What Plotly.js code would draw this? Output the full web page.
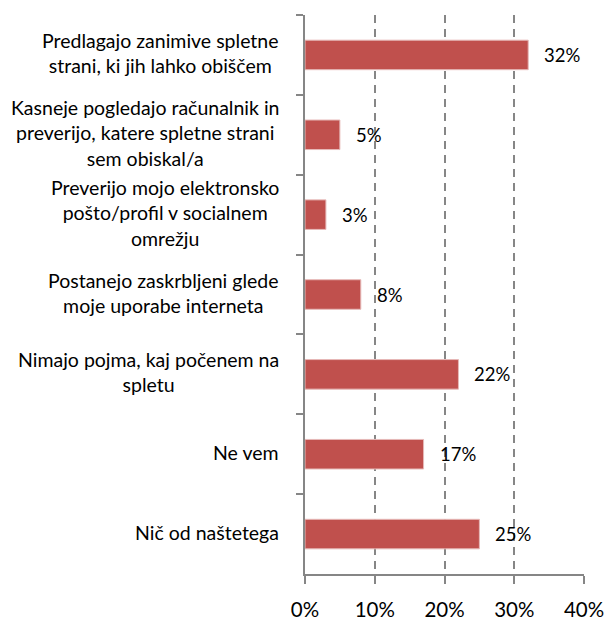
<!DOCTYPE html>
<html>
<head>
<meta charset="utf-8">
<script src="https://cdn.plot.ly/plotly-3.0.1.min.js"></script>
<style>html,body{margin:0;padding:0;background:#fff;}#chart{width:606px;height:623px;}</style>
</head>
<body>
<div id="chart"></div>
<script>
const categories = [
  "Predlagajo zanimive spletne<br>strani, ki jih lahko obiščem",
  "Kasneje pogledajo računalnik in<br>preverijo, katere spletne strani<br>sem obiskal/a",
  "Preverijo mojo elektronsko<br>pošto/profil v socialnem<br>omrežju",
  "Postanejo zaskrbljeni glede<br>moje uporabe interneta",
  "Nimajo pojma, kaj počenem na<br>spletu",
  "Ne vem",
  "Nič od naštetega"
];
const values = [32, 5, 3, 8, 22, 17, 25];
const xTickVals = [0, 10, 20, 30, 40];
const xTickText = ["0%", "10%", "20%", "30%", "40%"];

const FONT = "Lato, 'Open Sans', sans-serif";

const trace = {
  type: "bar",
  orientation: "h",
  x: values,
  y: categories,
  marker: { color: "#C0504D", line: { color: "#E6B9B8", width: 1 } },
  hoverinfo: "none"
};

const annotations = [];
categories.forEach((c, i) => {
  annotations.push({
    xref: "paper", yref: "y", x: 0, y: c,
    xanchor: "right", yanchor: "middle", xshift: -24, yshift: 2,
    align: "center", showarrow: false, text: c,
    font: { family: FONT, size: 19.5, color: "#000" }
  });
  annotations.push({
    xref: "x", yref: "y", x: values[i], y: c,
    xanchor: "left", yanchor: "middle", xshift: 14,
    showarrow: false, text: values[i] + "%",
    font: { family: FONT, size: 18.5, color: "#000" }
  });
});

const layout = {
  width: 606, height: 623,
  margin: { l: 305, r: 22, t: 15, b: 49 },
  paper_bgcolor: "#fff", plot_bgcolor: "#fff",
  showlegend: false,
  bargap: 0.63,
  font: { family: FONT, size: 18, color: "#000" },
  xaxis: {
    range: [0, 40],
    tickvals: xTickVals, ticktext: xTickText,
    showgrid: true, gridcolor: "#868686", gridwidth: 2, griddash: "8px,6px",
    zeroline: false,
    showline: true, linecolor: "#868686", linewidth: 2,
    ticks: "outside", ticklen: 8, tickcolor: "#868686", tickwidth: 2,
    ticklabelstandoff: 8,
    tickfont: { family: FONT, size: 20.5, color: "#000" },
    fixedrange: true
  },
  yaxis: {
    type: "category",
    autorange: "reversed",
    showticklabels: false,
    tickson: "boundaries",
    ticks: "outside", ticklen: 7, tickcolor: "#868686", tickwidth: 2,
    showgrid: false, zeroline: false,
    showline: true, linecolor: "#868686", linewidth: 2,
    fixedrange: true
  },
  annotations: annotations
};

Plotly.newPlot("chart", [trace], layout, { displayModeBar: false, staticPlot: true });
</script>
</body>
</html>
